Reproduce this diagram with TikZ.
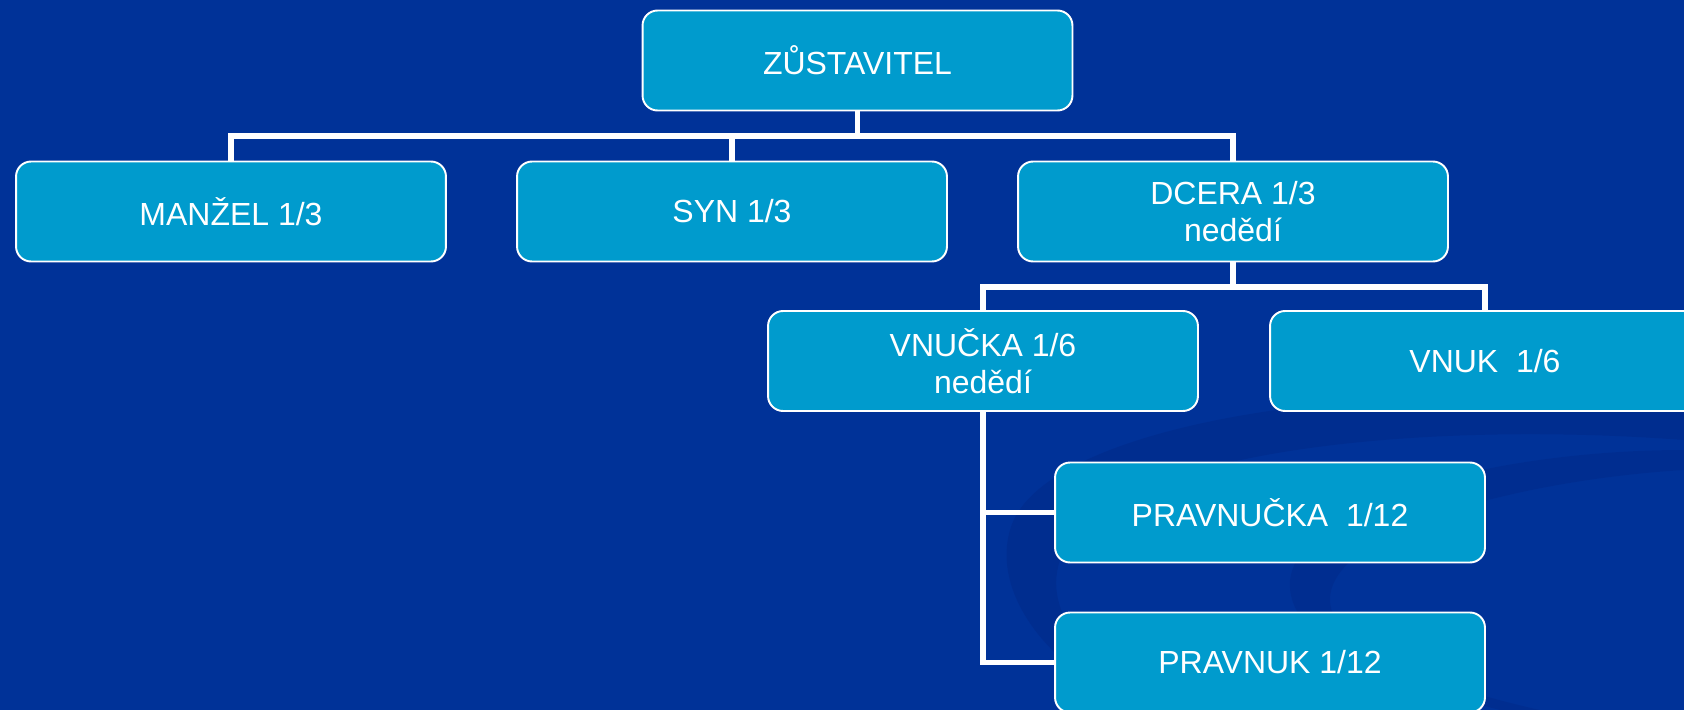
\documentclass[tikz,border=0pt]{standalone}
\usepackage{fontspec}
\setmainfont{Liberation Sans}
\definecolor{bgblue}{RGB}{0,50,152}
\definecolor{swoosh}{RGB}{0,42,138}
\definecolor{boxblue}{RGB}{0,155,205}
\begin{document}
\begin{tikzpicture}[x=0.02cm,y=-0.02cm,
  box/.style={draw=white,line width=1.1pt,fill=boxblue,rounded corners=0.3cm,
    minimum width=8.6cm,minimum height=2cm,text=white,align=center,
    font=\fontsize{18.2}{21}\selectfont},
  conn/.style={draw=white,line width=3.4pt}]
\fill[bgblue] (0,0) rectangle (1684,710);
\useasboundingbox (0,0) rectangle (1684,710);
\fill[swoosh,opacity=0.6] (1010,530) .. controls (1040,420) and (1400,370) .. (1684,410) -- (1684,440) .. controls (1420,420) and (1100,450) .. (1060,560) .. controls (1040,620) and (1100,680) .. (1200,710) -- (1150,710) .. controls (1060,680) and (990,600) .. (1010,530) -- cycle;
\fill[swoosh,opacity=0.5] (1290,580) .. controls (1300,500) and (1500,450) .. (1684,450) -- (1684,470) .. controls (1520,480) and (1330,530) .. (1330,600) .. controls (1330,650) and (1450,690) .. (1540,710) -- (1500,710) .. controls (1380,680) and (1285,640) .. (1290,580) -- cycle;
\node[box] (zust) at (857.5,60.5) {ZŮSTAVITEL};
\node[box] (manzel) at (231,211.5) {MANŽEL 1/3};
\node[box] (syn) at (732,211.5) {SYN 1/3};
\node[box] (dcera) at (1233,211.5) {DCERA 1/3\\nedědí};
\node[box] (vnucka) at (983,361) {VNUČKA 1/6\\nedědí};
\node[box] (vnuk) at (1485,361) {VNUK~~1/6};
\node[box] (pravnucka) at (1270,512.5) {PRAVNUČKA~~1/12};
\node[box] (pravnuk) at (1270,662.5) {PRAVNUK 1/12};
\coordinate (bar1) at (0,136);
\coordinate (bar2) at (0,287);
\draw[conn] (zust.south) -- (zust.south |- bar1);
\draw[conn] (manzel.north) -- (manzel.north |- bar1) -- (dcera.north |- bar1) -- (dcera.north);
\draw[conn] (syn.north) -- (syn.north |- bar1);
\draw[conn] (dcera.south) -- (dcera.south |- bar2);
\draw[conn] (vnucka.north) -- (vnucka.north |- bar2) -- (vnuk.north |- bar2) -- (vnuk.north);
\draw[conn] (vnucka.south) |- (pravnuk.west);
\draw[conn] (vnucka.south |- pravnucka.west) -- (pravnucka.west);
\end{tikzpicture}
\end{document}
